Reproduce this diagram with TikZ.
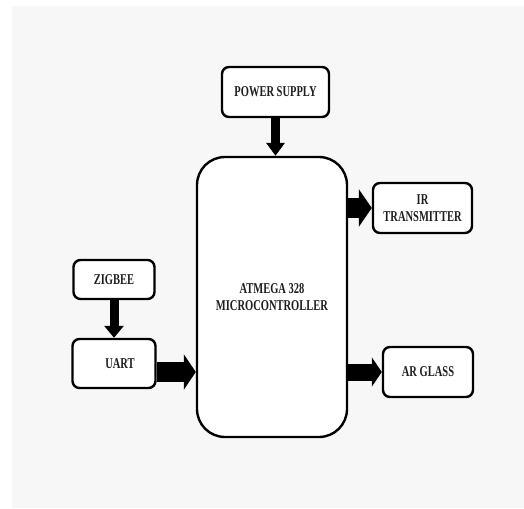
\documentclass[tikz,border=0pt]{standalone}
\usepackage{fontspec}
\setmainfont[FakeStretch=0.7]{Liberation Serif}
\usetikzlibrary{arrows.meta,calc}
\definecolor{bgpanel}{HTML}{F7F7F7}
\definecolor{txt}{HTML}{1E1E1E}
\begin{document}
\begin{tikzpicture}[x=1pt,y=-1pt,
  blockbox/.style={draw=black, line width=2.4pt, rounded corners=7pt, fill=white,
    inner sep=0pt, align=center, text=txt,
    font=\fontsize{15}{17}\selectfont\bfseries},
  bigarrow/.style={draw=black, line width=#1},
]
\useasboundingbox (0,0) rectangle (524,508);
\fill[white] (0,0) rectangle (524,508);
\fill[bgpanel] (12,6) rectangle (524,508);

\node[blockbox, minimum width=107pt, minimum height=50pt] (power) at (275.5,92) {POWER SUPPLY};
\node[blockbox, minimum width=150pt, minimum height=280pt, rounded corners=28pt] (main) at (272,297) {ATMEGA 328\\MICROCONTROLLER};
\node[blockbox, minimum width=81pt, minimum height=39pt] (zigbee) at (114,279.5) {ZIGBEE};
\node[blockbox, minimum width=83pt, minimum height=49pt] (uart) at (114,363.5) {\hspace*{12pt}\raisebox{-4pt}{UART}};
\node[blockbox, minimum width=99pt, minimum height=50pt] (ir) at (422.5,208) {IR\\TRANSMITTER};
\node[blockbox, minimum width=90pt, minimum height=50pt] (ar) at (428,372) {AR GLASS};

% connectors
\draw[line width=9pt, -{Triangle[length=13pt, width=18pt]}] (power.south) -- (power.south |- main.north);
\draw[line width=9pt, -{Triangle[length=12pt, width=19pt]}] (zigbee.south) -- (uart.north);
\coordinate (ua) at ($(uart.east)+(0,8.5)$);
\draw[line width=20pt, -{Triangle[length=12pt, width=35pt]}] (ua) -- (ua -| main.west);
\draw[line width=20pt, -{Triangle[length=13pt, width=37pt]}] (ir.west -| main.east) -- (ir.west);
\draw[line width=17pt, -{Triangle[length=10pt, width=29pt]}] (ar.west -| main.east) -- (ar.west);
\end{tikzpicture}
\end{document}
